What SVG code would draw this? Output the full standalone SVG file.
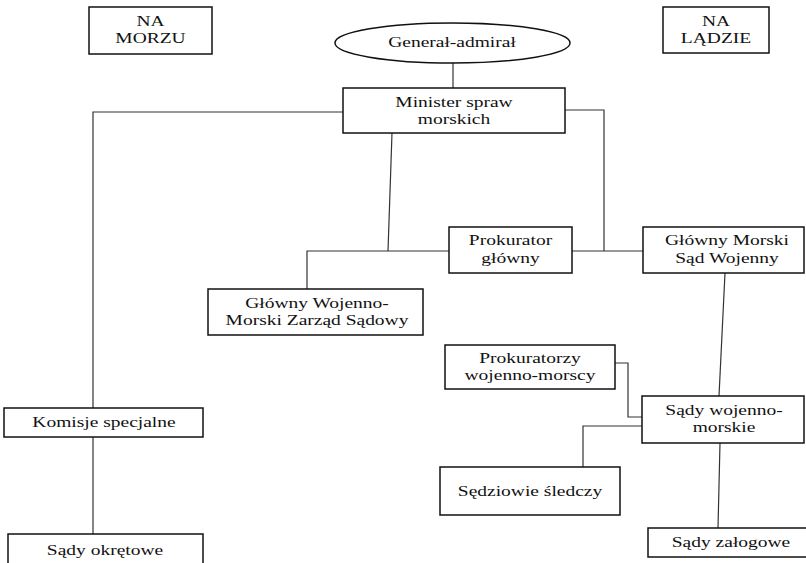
<svg xmlns="http://www.w3.org/2000/svg" width="806" height="563" viewBox="0 0 806 563">
<style>
.box{fill:#fff;stroke:#111;stroke-width:1.5}
.ln{fill:none;stroke:#333;stroke-width:1.2}
text{font-family:"Liberation Serif","Times New Roman",serif;font-size:15px;fill:#111;text-anchor:middle}
</style>
<rect width="806" height="563" fill="#fff"/>
<g id="connectors">
<line class="ln" x1="453" y1="63" x2="453" y2="88"/>
<polyline class="ln" points="343,112 93,112 93,408"/>
<polyline class="ln" points="565,110 604,110 604,251"/>
<line class="ln" x1="392" y1="133" x2="388" y2="251"/>
<polyline class="ln" points="449,251 307,251 307,289"/>
<line class="ln" x1="572" y1="251" x2="643" y2="251"/>
<line class="ln" x1="725" y1="273" x2="719" y2="396"/>
<polyline class="ln" points="615,363 628,363 628,417 642,417"/>
<polyline class="ln" points="642,426 583,426 583,467"/>
<line class="ln" x1="720" y1="443" x2="718" y2="528"/>
<line class="ln" x1="93" y1="437" x2="93" y2="534"/>
</g>
<g id="na-morzu">
<rect class="box" x="89" y="7" width="123" height="47"/>
<text transform="translate(150.5 26) scale(1.3 1)">NA</text>
<text transform="translate(150.5 43) scale(1.3 1)">MORZU</text>
</g>
<g id="na-ladzie">
<rect class="box" x="663" y="7" width="106" height="46"/>
<text transform="translate(716 26) scale(1.3 1)">NA</text>
<text transform="translate(716 43) scale(1.3 1)">LĄDZIE</text>
</g>
<g id="general-admiral">
<ellipse class="box" cx="452.5" cy="43" rx="117.5" ry="20"/>
<text transform="translate(452 47) scale(1.3 1)">Generał-admirał</text>
</g>
<g id="minister">
<rect class="box" x="343" y="88" width="222" height="45"/>
<text transform="translate(454 107) scale(1.3 1)">Minister spraw</text>
<text transform="translate(454 124) scale(1.3 1)">morskich</text>
</g>
<g id="prokurator-glowny">
<rect class="box" x="449" y="227" width="123" height="46"/>
<text transform="translate(510.5 245) scale(1.3 1)">Prokurator</text>
<text transform="translate(510.5 263) scale(1.3 1)">główny</text>
</g>
<g id="glowny-morski-sad">
<rect class="box" x="643" y="227" width="161" height="46"/>
<text transform="translate(727 245) scale(1.3 1)">Główny Morski</text>
<text transform="translate(727 263) scale(1.3 1)">Sąd Wojenny</text>
</g>
<g id="zarzad-sadowy">
<rect class="box" x="208" y="289" width="215" height="46"/>
<text transform="translate(317 308) scale(1.3 1)">Główny Wojenno-</text>
<text transform="translate(317 325) scale(1.3 1)">Morski Zarząd Sądowy</text>
</g>
<g id="prokuratorzy">
<rect class="box" x="445" y="345" width="170" height="44"/>
<text transform="translate(530 363) scale(1.3 1)">Prokuratorzy</text>
<text transform="translate(530 380) scale(1.3 1)">wojenno-morscy</text>
</g>
<g id="sady-wojenno-morskie">
<rect class="box" x="642" y="396" width="162" height="47"/>
<text transform="translate(724 415) scale(1.3 1)">Sądy wojenno-</text>
<text transform="translate(724 432) scale(1.3 1)">morskie</text>
</g>
<g id="sedziowie">
<rect class="box" x="440" y="467" width="180" height="48"/>
<text transform="translate(530 496) scale(1.3 1)">Sędziowie śledczy</text>
</g>
<g id="sady-zalogowe">
<rect class="box" x="648" y="528" width="162" height="29"/>
<text transform="translate(731 547) scale(1.3 1)">Sądy załogowe</text>
</g>
<g id="komisje">
<rect class="box" x="4" y="408" width="199" height="29"/>
<text transform="translate(104 427) scale(1.3 1)">Komisje specjalne</text>
</g>
<g id="sady-okretowe">
<rect class="box" x="8" y="534" width="195" height="40"/>
<text transform="translate(105 555) scale(1.3 1)">Sądy okrętowe</text>
</g>
</svg>
